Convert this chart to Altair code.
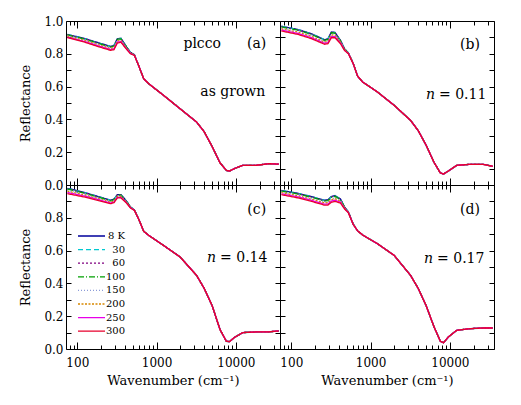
import altair as alt
import pandas as pd

FONT = "DejaVu Serif"

temps = ["8 K", "30", "60", "100", "150", "200", "250", "300"]
colors = ["#00009C", "#00C8D0", "#800080", "#00A000", "#8C9CD8", "#D88800", "#E800E8", "#E8002C"]
dashes = [[1, 0], [5, 3], [2, 2], [6, 2, 1, 2], [1, 2], [2, 1.5], [1, 0], [1, 0]]

# wavenumber grid (cm^-1)
wn_low = [75, 122, 180, 263, 290, 320, 355, 417, 468, 525, 603]
wn_high = [687, 794, 1220, 1980, 3190, 3980, 5010, 6310, 7590, 8320, 9550, 12200, 17950, 26300, 34700]

# panel (a) as grown: low-frequency part per temperature (8 K ... 300 K)
refl_low_a = [
    [0.918, 0.894, 0.869, 0.845, 0.851, 0.892, 0.895, 0.843, 0.808, 0.794, 0.720],
    [0.917, 0.893, 0.868, 0.844, 0.850, 0.891, 0.894, 0.842, 0.808, 0.794, 0.720],
    [0.916, 0.892, 0.867, 0.843, 0.848, 0.889, 0.892, 0.841, 0.807, 0.794, 0.720],
    [0.915, 0.891, 0.865, 0.841, 0.847, 0.888, 0.891, 0.841, 0.807, 0.793, 0.720],
    [0.910, 0.885, 0.859, 0.835, 0.841, 0.882, 0.885, 0.837, 0.805, 0.792, 0.720],
    [0.907, 0.882, 0.856, 0.832, 0.837, 0.878, 0.881, 0.835, 0.804, 0.792, 0.720],
    [0.902, 0.876, 0.850, 0.826, 0.830, 0.871, 0.875, 0.831, 0.802, 0.791, 0.720],
    [0.898, 0.872, 0.845, 0.821, 0.825, 0.866, 0.870, 0.828, 0.800, 0.790, 0.720],
]
refl_high_a = [0.648, 0.618, 0.547, 0.465, 0.384, 0.325, 0.235, 0.135, 0.089, 0.085, 0.100, 0.120, 0.120, 0.130, 0.127]

# panel (b) n = 0.11
refl_low_b = [
    [0.968, 0.948, 0.922, 0.886, 0.892, 0.933, 0.931, 0.882, 0.831, 0.805, 0.742],
    [0.967, 0.947, 0.921, 0.885, 0.891, 0.931, 0.929, 0.881, 0.831, 0.805, 0.742],
    [0.965, 0.945, 0.919, 0.883, 0.889, 0.930, 0.928, 0.880, 0.830, 0.805, 0.742],
    [0.964, 0.944, 0.918, 0.882, 0.888, 0.928, 0.926, 0.879, 0.830, 0.804, 0.742],
    [0.956, 0.936, 0.910, 0.875, 0.880, 0.919, 0.918, 0.874, 0.827, 0.803, 0.741],
    [0.952, 0.932, 0.906, 0.871, 0.876, 0.914, 0.913, 0.871, 0.826, 0.802, 0.741],
    [0.945, 0.924, 0.898, 0.864, 0.868, 0.905, 0.905, 0.866, 0.823, 0.801, 0.740],
    [0.939, 0.918, 0.892, 0.858, 0.862, 0.898, 0.898, 0.862, 0.821, 0.800, 0.740],
]
refl_high_b = [0.663, 0.628, 0.567, 0.486, 0.394, 0.332, 0.243, 0.138, 0.073, 0.067, 0.085, 0.120, 0.126, 0.126, 0.114]

# panel (c) n = 0.14
refl_low_c = [
    [0.980, 0.955, 0.931, 0.907, 0.914, 0.941, 0.941, 0.902, 0.866, 0.848, 0.785],
    [0.978, 0.954, 0.930, 0.906, 0.913, 0.940, 0.940, 0.901, 0.866, 0.848, 0.785],
    [0.977, 0.952, 0.929, 0.905, 0.912, 0.939, 0.939, 0.901, 0.865, 0.848, 0.785],
    [0.975, 0.951, 0.927, 0.904, 0.911, 0.938, 0.938, 0.900, 0.865, 0.848, 0.785],
    [0.967, 0.944, 0.921, 0.899, 0.905, 0.933, 0.933, 0.897, 0.864, 0.847, 0.785],
    [0.962, 0.940, 0.918, 0.895, 0.902, 0.930, 0.930, 0.895, 0.863, 0.846, 0.785],
    [0.954, 0.933, 0.912, 0.890, 0.896, 0.925, 0.925, 0.892, 0.861, 0.846, 0.785],
    [0.947, 0.927, 0.907, 0.886, 0.892, 0.921, 0.921, 0.890, 0.860, 0.845, 0.785],
]
refl_high_c = [0.718, 0.693, 0.632, 0.561, 0.449, 0.370, 0.265, 0.118, 0.047, 0.045, 0.070, 0.100, 0.104, 0.105, 0.110]

# panel (d) n = 0.17
refl_low_d = [
    [0.967, 0.949, 0.929, 0.907, 0.910, 0.930, 0.936, 0.915, 0.867, 0.835, 0.762],
    [0.966, 0.948, 0.928, 0.906, 0.908, 0.928, 0.934, 0.914, 0.866, 0.835, 0.762],
    [0.964, 0.946, 0.926, 0.904, 0.907, 0.927, 0.932, 0.913, 0.866, 0.835, 0.762],
    [0.963, 0.945, 0.925, 0.903, 0.905, 0.925, 0.931, 0.911, 0.865, 0.834, 0.762],
    [0.957, 0.938, 0.917, 0.895, 0.897, 0.916, 0.922, 0.905, 0.862, 0.833, 0.761],
    [0.953, 0.934, 0.913, 0.891, 0.892, 0.911, 0.916, 0.901, 0.860, 0.832, 0.761],
    [0.946, 0.927, 0.906, 0.883, 0.884, 0.902, 0.907, 0.895, 0.857, 0.831, 0.760],
    [0.941, 0.921, 0.900, 0.877, 0.878, 0.895, 0.900, 0.890, 0.855, 0.830, 0.760],
]
refl_high_d = [0.720, 0.695, 0.642, 0.571, 0.449, 0.370, 0.265, 0.135, 0.047, 0.038, 0.073, 0.114, 0.124, 0.128, 0.128]

# annotations: (text, wavenumber, reflectance)
labels_center = {
    "a": [("plcco", 3760, 0.86), ("(a)", 18300, 0.857), ("as grown", 9150, 0.567)],
    "b": [("(b)", 17950, 0.852)],
    "c": [("(c)", 18300, 0.846)],
    "d": [("(d)", 17950, 0.846)],
}
labels_n = {"b": ("= 0.11", 6880, 0.547), "c": ("= 0.14", 5960, 0.555), "d": ("= 0.17", 6500, 0.547)}

x_major = [100, 1000, 10000]
x_minor = [80, 90, 200, 300, 400, 500, 600, 700, 800, 900, 2000, 3000, 4000,
           5000, 6000, 7000, 8000, 9000, 20000, 30000]
y_ticks = [0.0, 0.1, 0.2, 0.3, 0.4, 0.5, 0.6, 0.7, 0.8, 0.9, 1.0]

W, H = 214, 164
xscale = alt.Scale(type="log", domain=[72, 36000], nice=False)
yscale = alt.Scale(domain=[0, 1], nice=False, zero=False)
cscale = alt.Scale(domain=temps, range=colors)
dscale = alt.Scale(domain=temps, range=dashes)

series = {"a": (refl_low_a, refl_high_a), "b": (refl_low_b, refl_high_b),
          "c": (refl_low_c, refl_high_c), "d": (refl_low_d, refl_high_d)}


def xaxis(orient, values, size, labels, title):
    kw = dict(orient=orient, values=values, tickSize=size, offset=-size, domain=False,
              grid=False, labels=labels, tickColor="black", tickWidth=1)
    if labels:
        kw.update(format="d", labelFont=FONT, labelFontSize=12, labelColor="black",
                  labelPadding=8, labelFlush=False)
    if title:
        kw.update(title=title, titleFont=FONT, titleFontSize=13, titleFontWeight="normal",
                  titleColor="black", titlePadding=6)
    return alt.Axis(**kw)


def yaxis(orient, labels, title, hide_top):
    kw = dict(orient=orient, values=y_ticks, tickSize=5, offset=-5, domain=False,
              grid=False, labels=labels, tickColor="black", tickWidth=1)
    if labels:
        cond = "round(datum.value*10) % 2 == 0"
        if hide_top:
            cond += " && datum.value < 0.95"
        kw.update(labelExpr=f"({cond}) ? format(datum.value, '.1f') : ''",
                  labelFont=FONT, labelFontSize=12, labelColor="black", labelPadding=3)
    if title:
        kw.update(title=title, titleFont=FONT, titleFontSize=13, titleFontWeight="normal",
                  titleColor="black", titlePadding=11)
    return alt.Axis(**kw)


def panel(key, left, bottom, legend):
    low, high = series[key]
    rows = []
    for k, (t, lv) in enumerate(zip(temps, low)):
        for w, r in zip(wn_low + wn_high, lv + high):
            rows.append({"T": t, "k": k, "wn": w, "R": r})
    df = pd.DataFrame(rows)

    xtitle = "Wavenumber (cm\u207b\u00b9)" if bottom else None
    ytitle = "Reflectance" if left else None

    if legend:
        leg = alt.Legend(title=None, orient="none", legendX=11, legendY=45,
                         symbolType="stroke", symbolSize=729, symbolStrokeWidth=1.3,
                         clipHeight=12, labelFont=FONT, labelFontSize=10, labelColor="black",
                         labelAlign="right", labelOffset=19, rowPadding=1.6, padding=0)
        color = alt.Color("T:N", scale=cscale, legend=leg, sort=temps)
        dash = alt.StrokeDash("T:N", scale=dscale, legend=leg, sort=temps)
    else:
        color = alt.Color("T:N", scale=cscale, legend=None)
        dash = alt.StrokeDash("T:N", scale=dscale, legend=None)

    lines = alt.Chart(df).mark_line(strokeWidth=1.3, clip=True).encode(
        x=alt.X("wn:Q", scale=xscale, axis=xaxis("bottom", x_major, 7, bottom, xtitle), title=xtitle),
        y=alt.Y("R:Q", scale=yscale, axis=yaxis("left", left, ytitle, key in ("c", "d")), title=ytitle),
        color=color,
        strokeDash=dash,
        order=alt.Order("wn:Q"),
        detail="k:Q",
    )

    tdf = pd.DataFrame([{"txt": t, "wn": w, "R": r} for t, w, r in labels_center[key]])
    text_c = alt.Chart(tdf).mark_text(font=FONT, fontSize=14, color="black",
                                      align="center", baseline="middle").encode(
        x=alt.X("wn:Q", scale=xscale, axis=xaxis("top", x_major, 7, False, None), title=None),
        y=alt.Y("R:Q", scale=yscale, axis=yaxis("right", False, None, False), title=None),
        text="txt:N",
    )
    minor_b = alt.Chart(tdf).mark_point(opacity=0).encode(
        x=alt.X("wn:Q", scale=xscale, axis=xaxis("bottom", x_minor, 4, False, None), title=None),
        y=alt.Y("R:Q", scale=yscale, axis=None),
    )
    minor_t = alt.Chart(tdf).mark_point(opacity=0).encode(
        x=alt.X("wn:Q", scale=xscale, axis=xaxis("top", x_minor, 4, False, None), title=None),
        y=alt.Y("R:Q", scale=yscale, axis=None),
    )
    layers = [lines, text_c, minor_b, minor_t]
    if key in labels_n:
        t, w, r = labels_n[key]
        ndf = pd.DataFrame([{"txt": t, "nn": "n", "wn": w, "R": r}])
        n_txt = alt.Chart(ndf).mark_text(font=FONT, fontSize=14, color="black", fontStyle="italic",
                                         align="right", baseline="middle", dx=-2).encode(
            x=alt.X("wn:Q", scale=xscale, axis=None), y=alt.Y("R:Q", scale=yscale, axis=None),
            text="nn:N")
        eq_txt = alt.Chart(ndf).mark_text(font=FONT, fontSize=14, color="black",
                                          align="left", baseline="middle", dx=2).encode(
            x=alt.X("wn:Q", scale=xscale, axis=None), y=alt.Y("R:Q", scale=yscale, axis=None),
            text="txt:N")
        layers += [n_txt, eq_txt]
    return alt.layer(*layers).resolve_axis(x="independent", y="independent").properties(
        width=W, height=H)


chart = alt.concat(
    panel("a", True, False, False), panel("b", False, False, False),
    panel("c", True, True, True), panel("d", False, True, False),
    columns=2, spacing=0, bounds="flush",
).resolve_scale(color="independent", strokeDash="independent").resolve_legend(
    color="independent", strokeDash="independent").properties(
    padding={"left": 11, "top": 6, "right": 5, "bottom": 5}, background="white"
).configure_view(stroke="black", strokeWidth=1)

chart.save("out.html", embed_options={"renderer": "svg", "actions": False})
